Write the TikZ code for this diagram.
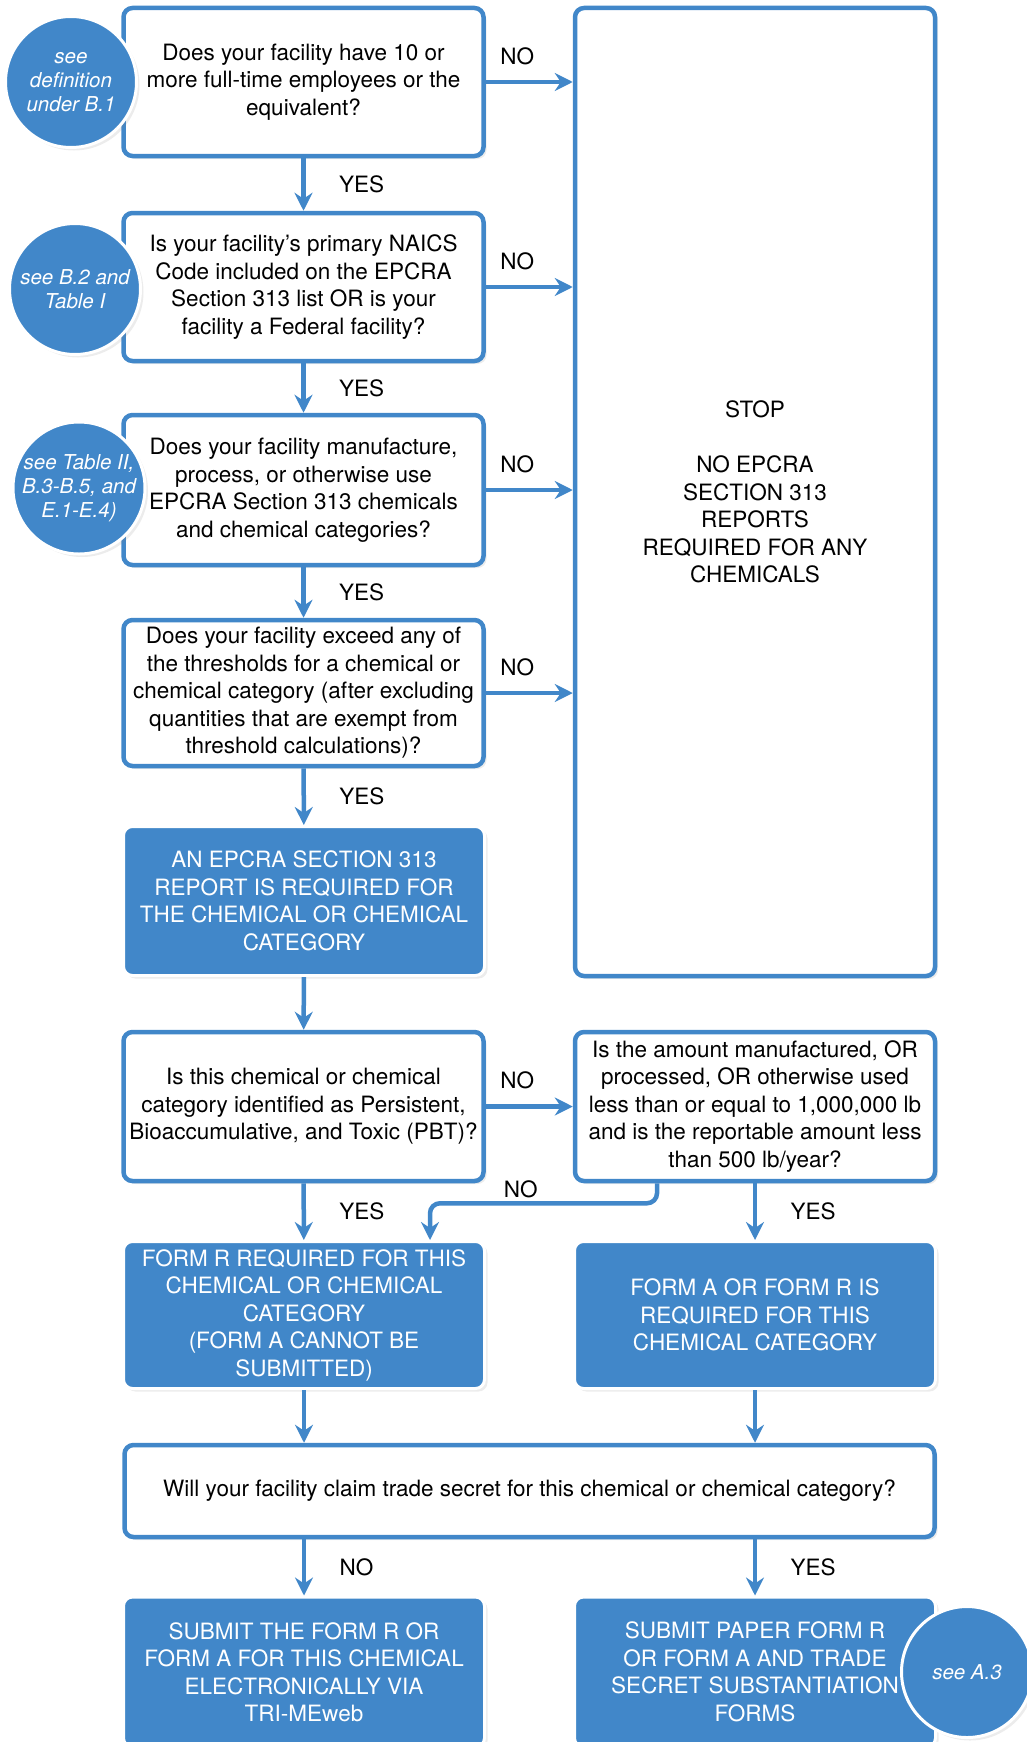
\documentclass[tikz,border=0pt]{standalone}
\usepackage{fontspec}
\setmainfont{TeX Gyre Heros}
\usetikzlibrary{arrows.meta,shadows}
\definecolor{epablue}{RGB}{65,135,201}
\tikzset{
  boxfont/.style={font=\fontsize{22.5}{27.5}\selectfont},
  softshadow/.style={drop shadow={opacity=.15,shadow xshift=3pt,shadow yshift=-3pt}},
  qbox/.style={boxfont,draw=epablue,line width=4.5pt,rounded corners=9pt,fill=white,
    align=center,inner sep=0pt,minimum width=360pt,softshadow},
  fillbox/.style={boxfont,draw=white,line width=3pt,rounded corners=9pt,fill=epablue,
    text=white,align=center,inner sep=0pt,minimum width=361pt,softshadow},
  seecirc/.style={circle,fill=epablue,draw=white,line width=3pt,minimum size=131pt,
    inner sep=0pt,text=white,align=center,font=\itshape\fontsize{20.5}{24}\selectfont,softshadow},
  flow/.style={draw=epablue,line width=4.5pt,-{Stealth[length=18pt,width=18pt,inset=6pt]}},
  lbl/.style={boxfont,text=black}
}
\begin{document}
\begin{tikzpicture}[x=1pt,y=-1pt]
\useasboundingbox (0,0) rectangle (1027,1742);
\clip (0,0) rectangle (1027,1742);

% questions and results
\node[qbox,minimum height=148pt] (q1) at (303.5,82) {Does your facility have 10 or\\more full-time employees or the\\equivalent?};
\node[qbox,minimum height=148pt] (q2) at (303.5,287) {Is your facility's primary NAICS\\Code included on the EPCRA\\Section 313 list OR is your\\facility a Federal facility?};
\node[qbox,minimum height=150pt] (q3) at (303.5,490) {Does your facility manufacture,\\process, or otherwise use\\EPCRA Section 313 chemicals\\and chemical categories?};
\node[qbox,minimum height=146pt] (q4) at (303.5,693) {Does your facility exceed any of\\the thresholds for a chemical or\\chemical category (after excluding\\quantities that are exempt from\\threshold calculations)?};
\node[fillbox,minimum height=149pt] (rep) at (304,901) {AN EPCRA SECTION 313\\REPORT IS REQUIRED FOR\\THE CHEMICAL OR CHEMICAL\\CATEGORY};
\node[qbox,minimum height=149pt] (q5) at (303.5,1106.5) {Is this chemical or chemical\\category identified as Persistent,\\Bioaccumulative, and Toxic (PBT)?};
\node[qbox,minimum height=149pt] (q6) at (755,1106.5) {Is the amount manufactured, OR\\processed, OR otherwise used\\less than or equal to 1,000,000 lb\\and is the reportable amount less\\than 500 lb/year?};
\node[fillbox,minimum height=147pt] (formr) at (304,1315) {FORM R REQUIRED FOR THIS\\CHEMICAL OR CHEMICAL\\CATEGORY\\(FORM A CANNOT BE\\SUBMITTED)};
\node[fillbox,minimum height=147pt] (forma) at (755,1315) {FORM A OR FORM R IS\\REQUIRED FOR THIS\\CHEMICAL CATEGORY};
\node[qbox,minimum width=810pt,minimum height=92pt] (q7) at (529.5,1491) {Will your facility claim trade secret for this chemical or chemical category?};
\node[fillbox,minimum height=150pt] (elec) at (304,1672) {SUBMIT THE FORM R OR\\FORM A FOR THIS CHEMICAL\\ELECTRONICALLY VIA\\TRI-MEweb};
\node[fillbox,minimum height=150pt] (paper) at (755,1672) {SUBMIT PAPER FORM R\\OR FORM A AND TRADE\\SECRET SUBSTANTIATION\\FORMS};
\node[qbox,minimum height=968pt] (stop) at (755,492) {STOP\\[27.5pt]NO EPCRA\\SECTION 313\\REPORTS\\REQUIRED FOR ANY\\CHEMICALS};

% YES arrows
\draw[flow] (q1) -- (q2) node[lbl,midway,right=30pt] {YES};
\draw[flow] (q2) -- (q3) node[lbl,midway,right=30pt] {YES};
\draw[flow] (q3) -- (q4) node[lbl,midway,right=30pt] {YES};
\draw[flow] (q4) -- (rep) node[lbl,midway,right=30pt] {YES};
\draw[flow] (rep) -- (q5);
\draw[flow] (q5) -- (formr) node[lbl,midway,right=30pt] {YES};
\draw[flow] (q6) -- (forma) node[lbl,midway,right=30pt] {YES};
\draw[flow] (formr) -- (formr |- q7.north);
\draw[flow] (forma) -- (forma |- q7.north);
\draw[flow] (q7.south -| elec) -- (elec) node[lbl,midway,right=30pt] {NO};
\draw[flow] (q7.south -| paper) -- (paper) node[lbl,midway,right=30pt] {YES};

% NO arrows
\draw[flow] (q1.east) -- (q1.east -| stop.west) node[lbl,midway,above=12pt,xshift=-12pt] {NO};
\draw[flow] (q2.east) -- (q2.east -| stop.west) node[lbl,midway,above=12pt,xshift=-12pt] {NO};
\draw[flow] (q3.east) -- (q3.east -| stop.west) node[lbl,midway,above=12pt,xshift=-12pt] {NO};
\draw[flow] (q4.east) -- (q4.east -| stop.west) node[lbl,midway,above=12pt,xshift=-12pt] {NO};
\draw[flow] (q5) -- (q6) node[lbl,midway,above=12pt,xshift=-12pt] {NO};
\draw[flow,rounded corners=10pt] ([xshift=-98pt]q6.south) -- ++(0,20) -| node[lbl,pos=0.3,above] {NO} ([xshift=126pt]formr.north);

% see notes
\node[seecirc] (c1) at (71,82) {see\\definition\\under B.1};
\node[seecirc] (c2) at (75,289) {see B.2 and\\Table I};
\node[seecirc] (c3) at (79,488) {see Table II,\\B.3-B.5, and\\E.1-E.4)};
\node[seecirc] (c4) at (967,1672) {see A.3};
\end{tikzpicture}
\end{document}
